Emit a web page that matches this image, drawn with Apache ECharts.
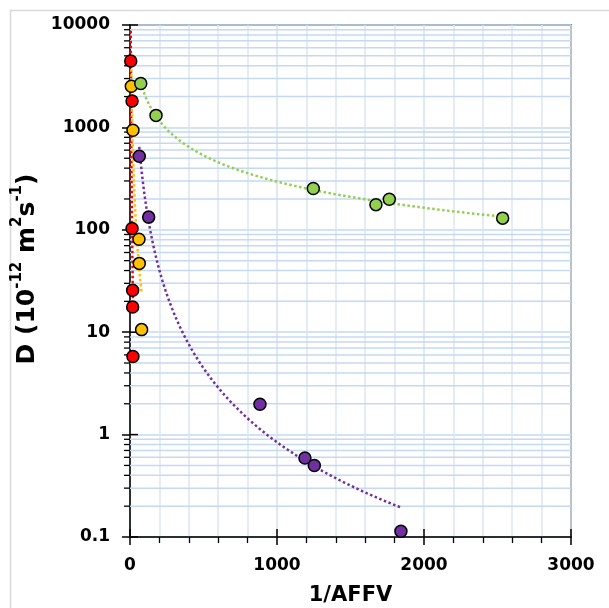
<!DOCTYPE html>
<html>
<head>
<meta charset="utf-8">
<title>D vs 1/AFFV</title>
<script src="https://cdn.jsdelivr.net/npm/echarts@6/dist/echarts.min.js"></script>
<style>
  html, body { margin: 0; padding: 0; background: #fff; }
  #chart { width: 609px; height: 608px; }
</style>
</head>
<body>
<div id="chart"></div>
<script>
// data (x = 1/AFFV, y = D)
var redX = [5, 14, 14, 18, 18, 20];
var redY = [4450, 1810, 103, 25.7, 17.6, 5.8];
var orangeX = [9, 20, 61, 63, 79];
var orangeY = [2520, 937, 81, 47, 10.6];
var greenX = [73, 177, 1247, 1673, 1764, 2535];
var greenY = [2680, 1310, 253, 176, 199, 130];
var purpleX = [63, 127, 884, 1190, 1254, 1843];
var purpleY = [522, 133, 1.98, 0.59, 0.50, 0.114];

var xTicks = [0, 1000, 2000, 3000];
var yTicks = [0.1, 1, 10, 100, 1000, 10000];

var FONT = 'DejaVu Sans';

// minor log gridlines 2..9 in every decade
var yMinor = [];
for (var i = 0; i < yTicks.length - 1; i++) {
    for (var k = 2; k <= 9; k++) yMinor.push([0, yTicks[i] * k]);
}

function pairs(xs, ys) {
    return xs.map(function (x, i) { return [x, ys[i]]; });
}

// power trendline y = a*x^b (least squares in log-log), like the spreadsheet one
function powerFit(xs, ys) {
    var n = xs.length, sx = 0, sy = 0, sxx = 0, sxy = 0;
    for (var i = 0; i < n; i++) {
        var lx = Math.log(xs[i]), ly = Math.log(ys[i]);
        sx += lx; sy += ly; sxx += lx * lx; sxy += lx * ly;
    }
    var b = (n * sxy - sx * sy) / (n * sxx - sx * sx);
    var a = Math.exp((sy - b * sx) / n);
    var x0 = Math.min.apply(null, xs), x1 = Math.max.apply(null, xs);
    var pts = [];
    for (var j = 0; j <= 200; j++) {
        var x = x0 * Math.pow(x1 / x0, j / 200);
        pts.push([x, a * Math.pow(x, b)]);
    }
    return pts;
}

var myChart = echarts.init(document.getElementById('chart'));

function scatter(name, xs, ys, color) {
    return {
        name: name, type: 'scatter', z: 5,
        symbolSize: 12,
        itemStyle: { color: color, borderColor: '#000', borderWidth: 1.5, opacity: 1 },
        data: pairs(xs, ys)
    };
}
function trend(name, xs, ys, color) {
    return {
        name: name, type: 'line', z: 3, showSymbol: false, silent: true,
        lineStyle: { color: color, width: 2.5, type: [2.5, 2.5] },
        data: powerFit(xs, ys)
    };
}

// major ticks also poke into the plot area (they cross the axis line)
var crossTicks = yTicks.map(function (v) { return [0, v, 'y']; })
    .concat(xTicks.map(function (v) { return [v, 0.1, 'x']; }));

var option = {
    animation: false,
    graphic: [{
        type: 'rect', z: -10,
        shape: { x: 10.5, y: 10.5, width: 640, height: 640 },
        style: { fill: 'none', stroke: '#d9d9d9', lineWidth: 1.5 }
    }],
    grid: {
        left: 130, right: 38, top: 25, bottom: 71,
        show: true, borderColor: '#333', borderWidth: 1.5,
        outerBoundsMode: 'none'
    },
    xAxis: {
        type: 'value', min: 0, max: 3000, interval: 1000,
        name: '1/AFFV', nameLocation: 'middle', nameGap: 48,
        nameTextStyle: { fontFamily: FONT, fontWeight: 'bold', fontSize: 21, color: '#000' },
        axisLine: { lineStyle: { color: '#000', width: 1.5 } },
        axisTick: { length: 8, lineStyle: { color: '#000', width: 1.5 } },
        minorTick: { show: true, splitNumber: 5, length: 6, lineStyle: { color: '#000', width: 1.3 } },
        splitLine: { lineStyle: { color: '#d5e2f1', width: 1.5 } },
        minorSplitLine: { show: true, lineStyle: { color: '#dce6f2', width: 1.5 } },
        axisLabel: {
            margin: 20, fontFamily: FONT, fontWeight: 'bold', fontSize: 17, color: '#000',
            customValues: xTicks,
            formatter: function (v) { return String(v); }
        }
    },
    yAxis: {
        type: 'log', logBase: 10, min: 0.1, max: 10000,
        name: '{b|D (10}{s|-12}{b| m}{s|2}{b|s}{s|-1}{b|)}',
        nameLocation: 'middle', nameGap: 74,
        nameTextStyle: {
            padding: [0, 0, 0, 24],
            rich: {
                b: { fontFamily: FONT, fontWeight: 'bold', fontSize: 25, color: '#000', lineHeight: 30, verticalAlign: 'bottom' },
                s: { fontFamily: FONT, fontWeight: 'bold', fontSize: 15, color: '#000', lineHeight: 30, verticalAlign: 'top', padding: [0, 0, 12, 0] }
            }
        },
        axisLine: { lineStyle: { color: '#000', width: 1.5 } },
        axisTick: { length: 8, lineStyle: { color: '#000', width: 1.5 } },
        splitLine: { lineStyle: { color: '#c5d9f1', width: 1.5 } },
        axisLabel: {
            margin: 20, fontFamily: FONT, fontWeight: 'bold', fontSize: 17, color: '#000',
            formatter: function (v) { return String(+v.toPrecision(6)); }
        }
    },
    series: [
        {
            type: 'custom', z: 1, silent: true, clip: false,
            encode: { x: 0, y: 1 },
            data: yMinor,
            renderItem: function (params, api) {
                var p = api.coord([0, api.value(1)]);
                var cs = params.coordSys;
                return {
                    type: 'group',
                    children: [
                        { type: 'line', shape: { x1: cs.x, y1: p[1], x2: cs.x + cs.width, y2: p[1] },
                          style: { stroke: '#c5d9f1', lineWidth: 1.5 } },
                        { type: 'line', shape: { x1: cs.x - 6, y1: p[1], x2: cs.x, y2: p[1] },
                          style: { stroke: '#000', lineWidth: 1.3 } }
                    ]
                };
            }
        },
        {
            type: 'custom', z: 2, silent: true, clip: false,
            encode: { x: 0, y: 1 },
            data: crossTicks,
            renderItem: function (params, api) {
                var p = api.coord([api.value(0), api.value(1)]);
                var isY = crossTicks[params.dataIndex][2] === 'y';
                var shape = isY ? { x1: p[0], y1: p[1], x2: p[0] + 8, y2: p[1] }
                                : { x1: p[0], y1: p[1], x2: p[0], y2: p[1] - 8 };
                return { type: 'line', shape: shape, style: { stroke: '#000', lineWidth: 1.5 } };
            }
        },
        trend('red fit', redX, redY, '#ff0000'),
        trend('orange fit', orangeX, orangeY, '#ffc000'),
        trend('green fit', greenX, greenY, '#92d050'),
        trend('purple fit', purpleX, purpleY, '#7030a0'),
        scatter('red', redX, redY, '#ff0000'),
        scatter('orange', orangeX, orangeY, '#ffc000'),
        scatter('green', greenX, greenY, '#92d050'),
        scatter('purple', purpleX, purpleY, '#7030a0')
    ]
};
myChart.setOption(option);
</script>
</body>
</html>
